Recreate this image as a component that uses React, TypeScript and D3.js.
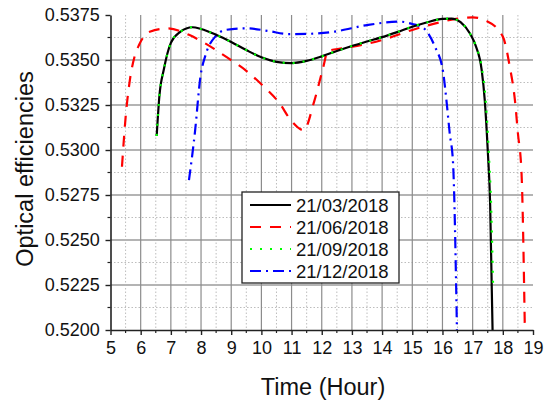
import * as d3 from 'd3'
import { useEffect, useRef } from 'react'

// hours / efficiencies
const marchHours = [6.53, 6.62, 6.77, 7.0, 7.3, 7.72, 8.0, 8.5, 9.0, 9.5, 10.0, 10.5, 11.0, 11.5, 12.0, 12.5, 13.0, 13.5, 14.0, 14.5, 15.0, 15.5, 16.0, 16.3, 16.6, 16.9, 17.1, 17.3, 17.4, 17.5, 17.58, 17.66]
const marchValues = [0.53078, 0.5330, 0.5345, 0.53595, 0.53655, 0.53682, 0.53672, 0.5364, 0.536, 0.53555, 0.53515, 0.5349, 0.53483, 0.53495, 0.5352, 0.5355, 0.53578, 0.53603, 0.53627, 0.53655, 0.53685, 0.5371, 0.53728, 0.5373, 0.5371, 0.5365, 0.5358, 0.53444, 0.5328, 0.53, 0.527, 0.52]

const juneHours = [5.38, 5.5, 5.65, 5.8, 5.95, 6.3, 6.9, 7.6, 8.1, 8.9, 9.5, 10.0, 10.6, 11.0, 11.4, 11.75, 12.05, 12.2, 12.7, 13.5, 14.0, 15.0, 16.0, 16.5, 17.0, 17.4, 18.0, 18.23, 18.4, 18.5, 18.62, 18.73]
const juneValues = [0.52907, 0.5318, 0.53398, 0.5352, 0.53585, 0.53657, 0.53676, 0.5364, 0.53596, 0.5351, 0.5344, 0.53365, 0.5326, 0.5316, 0.5311, 0.5327, 0.5346, 0.5355, 0.53565, 0.5359, 0.53611, 0.53667, 0.53713, 0.5373, 0.53737, 0.53722, 0.5363, 0.53463, 0.53278, 0.53093, 0.52872, 0.52]

const septHours = [6.53, 6.62, 6.77, 7.0, 7.3, 7.72, 8.0, 8.5, 9.0, 9.5, 10.0, 10.5, 11.0, 11.5, 12.0, 12.5, 13.0, 13.5, 14.0, 14.5, 15.0, 15.5, 16.0, 16.3, 16.6, 16.9, 17.1, 17.3, 17.42, 17.53, 17.61, 17.68]
const septValues = [0.53078, 0.5330, 0.5345, 0.53595, 0.53655, 0.53682, 0.53672, 0.5364, 0.536, 0.53555, 0.53515, 0.5349, 0.53483, 0.53495, 0.5352, 0.5355, 0.53578, 0.53603, 0.53627, 0.53655, 0.53685, 0.5371, 0.53728, 0.5373, 0.5371, 0.5365, 0.5358, 0.5346, 0.533, 0.5300, 0.527, 0.5222]

const decHours = [7.6, 7.8, 7.98, 8.15, 8.5, 8.8, 9.5, 10.2, 10.9, 11.5, 12.4, 13.5, 14.6, 15.0, 15.35, 15.75, 16.02, 16.13, 16.24, 16.35, 16.48]
const decValues = [0.52833, 0.53102, 0.53407, 0.53528, 0.53635, 0.53667, 0.53676, 0.53662, 0.53644, 0.53645, 0.53657, 0.53694, 0.53713, 0.537, 0.5368, 0.53574, 0.53435, 0.53278, 0.53093, 0.5293, 0.52]

const seriesNames = ['21/03/2018', '21/06/2018', '21/09/2018', '21/12/2018']
const xTicks = d3.range(5, 20, 1)
const yTicks = [0.52, 0.5225, 0.525, 0.5275, 0.53, 0.5325, 0.535, 0.5375]

const font = 'Arial, "Liberation Sans", sans-serif'

export default function App() {
  const svgRef = useRef<SVGSVGElement | null>(null)

  useEffect(() => {
    if (!svgRef.current)
      return
    const svg = d3.select(svgRef.current)
    svg.selectAll('*').remove()

    const left = 110.5, right = 533, top = 15, bottom = 330
    const x = d3.scaleLinear().domain([5, 19]).range([left, right])
    const y = d3.scaleLinear().domain([0.52, 0.5375]).range([bottom, top])

    const grid = svg.append('g')
    // minor grid
    d3.range(5.5, 19, 1).forEach(h => {
      grid.append('line').attr('x1', x(h)).attr('x2', x(h)).attr('y1', top).attr('y2', bottom)
        .attr('stroke', '#bdbdbd').attr('stroke-width', 1).attr('stroke-dasharray', '1.5,2')
    })
    d3.range(0, 7).map(i => 0.52125 + i * 0.0025).forEach(v => {
      grid.append('line').attr('x1', left).attr('x2', right).attr('y1', y(v)).attr('y2', y(v))
        .attr('stroke', '#bdbdbd').attr('stroke-width', 1).attr('stroke-dasharray', '1.5,2')
    })
    // major grid
    yTicks.slice(1, -1).forEach(v => {
      grid.append('line').attr('x1', left).attr('x2', right).attr('y1', y(v)).attr('y2', y(v))
        .attr('stroke', '#b4b4b4').attr('stroke-width', 2)
    })
    xTicks.slice(1, -1).forEach(h => {
      grid.append('line').attr('x1', x(h)).attr('x2', x(h)).attr('y1', top).attr('y2', bottom)
        .attr('stroke', '#8c8c8c').attr('stroke-width', 1.2)
    })

    svg.append('clipPath').attr('id', 'plot-clip').append('rect')
      .attr('x', left).attr('y', top - 2).attr('width', right - left).attr('height', bottom - top + 2)

    const line = d3.line<[number, number]>()
      .x(d => x(d[0])).y(d => y(d[1])).curve(d3.curveMonotoneX)

    const series = [
      { hours: juneHours, values: juneValues, color: '#ff0000', dash: '11,9', w: 2.2 },
      { hours: decHours, values: decValues, color: '#0000ff', dash: '11,5,2,5', w: 2.2 },
      { hours: marchHours, values: marchValues, color: '#000000', dash: null, w: 2.2 },
      { hours: septHours, values: septValues, color: '#00ff00', dash: '2,8', w: 2.2 },
    ]
    const plot = svg.append('g').attr('clip-path', 'url(#plot-clip)')
    series.forEach(s => {
      const pts = s.hours.map((h, i) => [h, s.values[i]] as [number, number])
      plot.append('path').attr('d', line(pts)).attr('fill', 'none')
        .attr('stroke', s.color).attr('stroke-width', s.w)
        .attr('stroke-dasharray', s.dash)
    })

    // axes
    const xAxis = svg.append('g').attr('transform', `translate(0,${bottom})`)
      .call(d3.axisBottom(x).tickValues(xTicks).tickFormat(d3.format('d')).tickSize(5).tickSizeOuter(0))
    xAxis.selectAll('text').attr('font-size', 18).attr('font-family', font).attr('fill', '#111').attr('dy', '0.9em')
    xAxis.select('.domain').attr('stroke', '#222').attr('stroke-width', 1.6)
    xAxis.selectAll('.tick line').attr('stroke', '#222').attr('stroke-width', 1.4)
    d3.range(5.5, 19, 1).forEach(h => {
      svg.append('line').attr('x1', x(h)).attr('x2', x(h)).attr('y1', bottom).attr('y2', bottom + 3)
        .attr('stroke', '#222').attr('stroke-width', 1.2)
    })

    const yAxis = svg.append('g').attr('transform', `translate(${left},0)`)
      .call(d3.axisLeft(y).tickValues(yTicks).tickFormat(d3.format('.4f')).tickSize(5).tickSizeOuter(0))
    yAxis.selectAll('text').attr('font-size', 18).attr('font-family', font).attr('fill', '#111').attr('dx', '-0.15em')
    yAxis.select('.domain').attr('stroke', '#222').attr('stroke-width', 1.6)
    yAxis.selectAll('.tick line').attr('stroke', '#222').attr('stroke-width', 1.4)
    d3.range(0, 7).map(i => 0.52125 + i * 0.0025).forEach(v => {
      svg.append('line').attr('x1', left - 3).attr('x2', left).attr('y1', y(v)).attr('y2', y(v))
        .attr('stroke', '#222').attr('stroke-width', 1.2)
    })

    svg.append('text').attr('x', 323).attr('y', 395)
      .attr('text-anchor', 'middle').attr('font-size', 23.5).attr('font-family', font).attr('fill', '#111')
      .text('Time (Hour)')
    svg.append('text').attr('transform', `translate(33,169) rotate(-90)`)
      .attr('text-anchor', 'middle').attr('font-size', 23.5).attr('font-family', font).attr('fill', '#111')
      .text('Optical efficiencies')

    // legend
    const lg = svg.append('g')
    lg.append('rect').attr('x', 242).attr('y', 192).attr('width', 157).attr('height', 91)
      .attr('fill', '#fff').attr('stroke', '#222').attr('stroke-width', 1.3)
    const legendStyles = [series[2], series[0], series[3], series[1]]
    seriesNames.forEach((name, i) => {
      const yy = 205 + i * 22
      const s = legendStyles[i]
      lg.append('line').attr('x1', 250).attr('x2', 291).attr('y1', yy).attr('y2', yy)
        .attr('stroke', s.color).attr('stroke-width', s.w).attr('stroke-dasharray', s.dash)
      lg.append('text').attr('x', 296).attr('y', yy).attr('dy', '0.36em')
        .attr('font-size', 18.5).attr('font-family', font).attr('fill', '#111').text(name)
    })
  }, [])

  return (
    <div style={{ position: 'fixed', left: 0, top: 0 }}>
      <svg ref={svgRef} width={553} height={401} style={{ display: 'block', background: '#fff' }}></svg>
    </div>
  )
}
